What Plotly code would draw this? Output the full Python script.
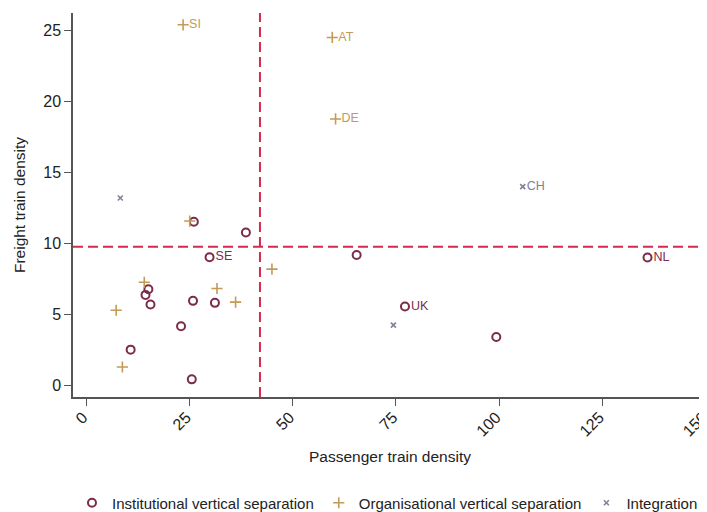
import plotly.graph_objects as go

# Institutional vertical separation
inst_x = [26.1, 38.7, 29.9, 65.5, 135.9, 77.2, 99.3, 14.4, 15.1, 15.6, 10.8, 23.0, 25.9, 31.2, 25.6]
inst_y = [11.52, 10.77, 9.03, 9.18, 9.01, 5.56, 3.42, 6.38, 6.78, 5.70, 2.53, 4.18, 5.96, 5.82, 0.44]
inst_lab = ["", "", "SE", "", "NL", "UK", "", "", "", "", "", "", "", "", ""]

# Organisational vertical separation
org_x = [23.5, 59.6, 60.4, 25.1, 7.3, 8.8, 14.1, 31.7, 36.2, 45.0]
org_y = [25.37, 24.48, 18.75, 11.57, 5.30, 1.31, 7.27, 6.83, 5.87, 8.19]
org_lab = ["SI", "AT", "DE", "", "", "", "", "", "", ""]

# Integration
int_x = [8.3, 105.7, 74.4]
int_y = [13.19, 13.99, 4.25]
int_lab = ["", "CH", ""]

x_ticks = [0, 25, 50, 75, 100, 125, 150]
y_ticks = [0, 5, 10, 15, 20, 25]
mean_x = 42.1
mean_y = 9.76

c_inst = "#7b2c4a"
c_org = "#c39a57"
c_int = "#7d8199"
font = "Liberation Sans, Arial, Helvetica, sans-serif"

fig = go.Figure()
fig.add_trace(go.Scatter(
    x=inst_x, y=inst_y, text=inst_lab, mode="markers+text",
    textposition="middle right", textfont=dict(color=c_inst, size=12.5, family=font),
    marker=dict(symbol="circle-open", size=8, color=c_inst, line=dict(width=2, color=c_inst)),
    name="Institutional vertical separation"))
fig.add_trace(go.Scatter(
    x=org_x, y=org_y, text=org_lab, mode="markers+text",
    textposition="middle right", textfont=dict(color=c_org, size=12.5, family=font),
    marker=dict(symbol="cross-thin-open", size=8, color=c_org, line=dict(width=1.6, color=c_org)),
    name="Organisational vertical separation"))
fig.add_trace(go.Scatter(
    x=int_x, y=int_y, text=int_lab, mode="markers+text",
    textposition="middle right", textfont=dict(color=c_int, size=12.5, family=font),
    marker=dict(symbol="x-thin-open", size=5, color=c_int, line=dict(width=1.6, color=c_int)),
    name="Integration"))

fig.add_shape(type="line", xref="x", yref="paper", x0=mean_x, x1=mean_x, y0=0, y1=1,
              line=dict(color="#d42a4e", width=2, dash="10px,5px"))
fig.add_shape(type="line", xref="paper", yref="y", x0=0, x1=1, y0=mean_y, y1=mean_y,
              line=dict(color="#d42a4e", width=2, dash="10px,5px"))

# page body has an 8px default margin; size the figure so it ends at the window edge
fig.update_layout(
    width=699, height=504,
    margin=dict(l=65, r=0, t=5, b=115, autoexpand=False),
    paper_bgcolor="white", plot_bgcolor="white",
    font=dict(family=font, size=15.5, color="#222"),
    showlegend=True,
    legend=dict(orientation="h", x=-0.0016, xanchor="left", y=-0.276, yanchor="middle",
                font=dict(size=15, family=font), itemsizing="trace"),
)
fig.update_xaxes(range=[-3.15, 150.3], tickvals=x_ticks, ticktext=[str(v) for v in x_ticks],
                 tickangle=-45, ticks="outside", ticklen=7, tickcolor="#555",
                 showline=True, linecolor="#555", linewidth=1.5, showgrid=False, zeroline=False,
                 automargin=False, ticklabeloverflow="allow",
                 ticklabelstandoff=-4, ticklabelshift=-3,
                 title=dict(text="Passenger train density", font=dict(size=15.5), standoff=13),
                 tickfont=dict(size=16))
fig.update_yaxes(range=[-0.8, 26.2], tickvals=y_ticks, ticks="outside", ticklen=7, tickcolor="#555",
                 showline=True, linecolor="#555", linewidth=1.5, showgrid=False, zeroline=False,
                 automargin=False,
                 title=dict(text="Freight train density", font=dict(size=15.5), standoff=14),
                 tickfont=dict(size=16))

fig.write_html("out.html")
